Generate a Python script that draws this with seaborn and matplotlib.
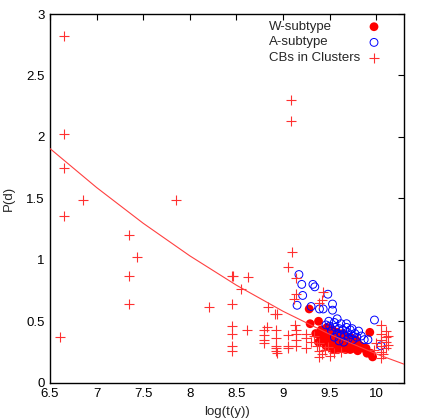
import numpy as np
import pandas as pd
import matplotlib
matplotlib.use("Agg")
import matplotlib.pyplot as plt
import seaborn as sns

# W-subtype (filled red circles)
w_x = [9.28, 9.29, 9.38, 9.41, 9.45, 9.40, 9.44, 9.47, 9.50, 9.50, 9.52, 9.53,
       9.55, 9.56, 9.57, 9.58, 9.60, 9.60, 9.62, 9.63, 9.64, 9.65, 9.67, 9.68,
       9.70, 9.72, 9.72, 9.74, 9.76, 9.78, 9.80, 9.83, 9.86, 9.90, 9.93, 9.96,
       9.48, 9.55, 9.38, 9.35, 9.68, 9.75, 9.94,
       9.46, 9.52, 9.58, 9.66, 9.72, 9.78, 9.80, 9.44, 9.50, 9.62, 9.89, 9.95]
w_y = [0.60, 0.48, 0.50, 0.43, 0.42, 0.38, 0.35, 0.45, 0.40, 0.36, 0.33, 0.43,
       0.38, 0.34, 0.30, 0.41, 0.37, 0.32, 0.28, 0.35, 0.40, 0.31, 0.27, 0.34,
       0.30, 0.37, 0.27, 0.32, 0.28, 0.35, 0.26, 0.30, 0.28, 0.24, 0.41, 0.21,
       0.31, 0.27, 0.33, 0.40, 0.32, 0.29, 0.24,
       0.30, 0.28, 0.27, 0.29, 0.30, 0.29, 0.32, 0.39, 0.34, 0.36, 0.28, 0.23]

# A-subtype (open blue circles)
a_x = [9.17, 9.20, 9.32, 9.34, 9.21, 9.48, 9.15, 9.30, 9.39, 9.43, 9.53, 9.53,
       9.49, 9.55, 9.62, 9.68, 9.72, 9.81, 9.98, 9.87, 9.91, 10.05,
       9.50, 9.52, 9.56, 9.58, 9.60, 9.62, 9.64, 9.66, 9.69, 9.70, 9.73, 9.75,
       9.77, 9.60, 9.65, 9.55, 9.68, 9.74, 9.79, 9.84, 9.46, 9.58]
a_y = [0.88, 0.80, 0.80, 0.78, 0.71, 0.72, 0.63, 0.62, 0.60, 0.60, 0.64, 0.59,
       0.50, 0.49, 0.48, 0.45, 0.43, 0.42, 0.51, 0.35, 0.35, 0.30,
       0.46, 0.42, 0.45, 0.40, 0.44, 0.39, 0.43, 0.38, 0.41, 0.36, 0.39, 0.35,
       0.40, 0.34, 0.33, 0.37, 0.48, 0.44, 0.37, 0.38, 0.47, 0.52]

# CBs in Clusters (red plus)
cb_x = [6.61, 6.65, 6.65, 6.65, 6.65, 6.85, 7.35, 7.43, 7.35, 7.35, 7.85,
        8.21, 8.45, 8.46, 8.62, 8.55, 8.45, 8.45, 8.45, 8.45, 8.45, 8.61,
        8.79, 8.79, 8.79, 8.79, 8.83, 8.84, 8.91, 8.93, 8.92, 8.92, 8.92, 8.92,
        8.92, 8.93, 9.05, 9.10, 9.09, 9.09, 9.05, 9.05, 9.05,
        9.14, 9.14, 9.12, 9.43, 9.42, 9.39, 9.13, 9.14, 9.14, 9.14, 9.14,
        9.25, 9.25, 9.25, 9.39, 9.39, 9.39, 9.30, 9.48, 9.55, 9.62,
        10.05, 10.05, 10.05, 10.05, 10.05, 10.05, 10.10, 10.10, 10.10, 10.10,
        10.12, 10.12, 10.07, 9.98, 10.0,
        9.33, 9.36, 9.45, 9.50, 9.42]
cb_y = [0.37, 2.82, 2.02, 1.75, 1.36, 1.49, 1.20, 1.02, 0.87, 0.64, 1.49,
        0.62, 0.87, 0.87, 0.86, 0.76, 0.64, 0.46, 0.40, 0.30, 0.26, 0.43,
        0.43, 0.39, 0.35, 0.32, 0.45, 0.62, 0.56, 0.56, 0.43, 0.36, 0.30, 0.28,
        0.26, 0.24, 0.94, 1.06, 2.30, 2.13, 0.39, 0.30, 0.28,
        0.85, 0.72, 0.68, 0.74, 0.67, 0.65, 0.47, 0.43, 0.40, 0.35, 0.30,
        0.40, 0.36, 0.28, 0.32, 0.26, 0.21, 0.33, 0.29, 0.24, 0.25,
        0.47, 0.40, 0.35, 0.30, 0.25, 0.20, 0.42, 0.37, 0.33, 0.28,
        0.38, 0.31, 0.23, 0.27, 0.32,
        0.38, 0.30, 0.27, 0.22, 0.23]

# fitted curve
fit_x = [6.5, 7.0, 7.5, 8.0, 8.5, 9.0, 9.5, 10.0, 10.3]
fit_y = [1.905, 1.588, 1.297, 1.032, 0.793, 0.581, 0.394, 0.234, 0.150]

series_names = ["W-subtype", "A-subtype", "CBs in Clusters"]

sns.set_style("white")
plt.rcParams['font.family'] = ['Liberation Sans', 'DejaVu Sans']

fig = plt.figure(figsize=(4.26, 4.20), dpi=100)
ax = fig.add_axes([50 / 426, 1 - 382.7 / 420, 354.3 / 426, 368.7 / 420])

w_style = dict(color="#ff0000", s=40, edgecolor="none")
a_style = dict(s=32, facecolor="none", edgecolor="#0000ff", linewidth=0.7)
cb_style = dict(marker="+", color="#ff3030", s=45, linewidth=0.8)

sns.scatterplot(x=w_x, y=w_y, ax=ax, zorder=2, **w_style)
sns.scatterplot(x=a_x, y=a_y, ax=ax, zorder=3, **a_style)
sns.scatterplot(x=cb_x, y=cb_y, ax=ax, zorder=4, **cb_style)
sns.lineplot(x=fit_x, y=fit_y, ax=ax, color="#ff4040", linewidth=0.8, zorder=5)

ax.set_xlim(6.5, 10.3)
ax.set_ylim(0, 3)
ax.set_xticks(np.arange(6.5, 10.01, 0.5))
ax.set_yticks(np.arange(0, 3.01, 0.5))
ax.set_xticklabels(["6.5", "7", "7.5", "8", "8.5", "9", "9.5", "10"])
ax.set_yticklabels(["0", "0.5", "1", "1.5", "2", "2.5", "3"])
ax.tick_params(direction="in", top=True, right=True, length=4, width=0.8,
               labelsize=9.5, colors="black", pad=4)
for sp in ax.spines.values():
    sp.set_color("black")
    sp.set_linewidth(1.0)
ax.set_xlabel("log(t(y))", fontsize=9.5, labelpad=4)
ax.set_ylabel("P(d)", fontsize=9.5, labelpad=8)

# gnuplot-like key: left aligned text, sample to the right
key_rows = [0.9655, 0.923, 0.882]
for name, style, ky in zip(series_names, [w_style, a_style, cb_style], key_rows):
    ax.text(0.618, ky, name, transform=ax.transAxes, fontsize=9.5,
            ha="left", va="center")
    ax.scatter([0.9145], [ky], transform=ax.transAxes, clip_on=False,
               zorder=6, **style)

fig.savefig("out.png", dpi=100)
